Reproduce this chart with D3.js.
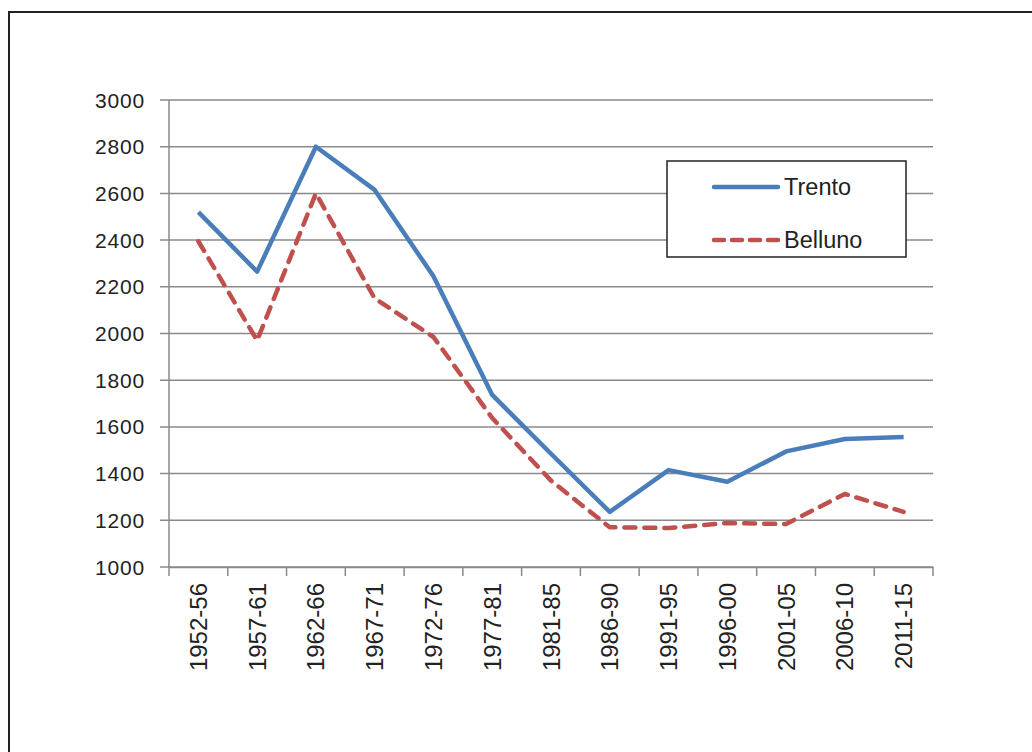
<!DOCTYPE html>
<html>
<head>
<meta charset="utf-8">
<script src="https://cdn.jsdelivr.net/npm/d3@7"></script>
<style>
  body { margin: 0; background: #fff; }
  svg { display: block; font-family: "Liberation Sans", Arial, sans-serif; }
</style>
</head>
<body>
<svg id="chart" width="1032" height="752"></svg>
<script>
const periods = ['1952-56', '1957-61', '1962-66', '1967-71', '1972-76', '1977-81', '1981-85',
  '1986-90', '1991-95', '1996-00', '2001-05', '2006-10', '2011-15']
const trento = [2520, 2265, 2800, 2615, 2245, 1737, 1485, 1236, 1415, 1365, 1495, 1548, 1557]
const belluno = [2395, 1970, 2600, 2150, 1985, 1638, 1370, 1170, 1167, 1188, 1184, 1313, 1236]
const yTicks = [1000, 1200, 1400, 1600, 1800, 2000, 2200, 2400, 2600, 2800, 3000]
const seriesNames = ['Trento', 'Belluno']

const svg = d3.select('#chart')

// outer frame (only top and left edges show in the picture)
svg.append('rect')
    .attr('x', 9)
    .attr('y', 12)
    .attr('width', 1200)
    .attr('height', 900)
    .attr('fill', 'none')
    .attr('stroke', '#222')
    .attr('stroke-width', 2)

const plot = { left: 169, right: 933, top: 100, bottom: 567 }

const x = d3.scaleBand()
    .domain(periods)
    .range([plot.left, plot.right])

const y = d3.scaleLinear()
    .domain([1000, 3000])
    .range([plot.bottom, plot.top])

// grid
svg.append('g')
  .selectAll('line')
  .data(yTicks)
  .join('line')
    .attr('x1', plot.left - 9)
    .attr('x2', plot.right)
    .attr('y1', d => y(d))
    .attr('y2', d => y(d))
    .attr('stroke', '#8a8a8a')
    .attr('stroke-width', 1.5)

// y labels
svg.append('g')
  .selectAll('text')
  .data(yTicks)
  .join('text')
    .attr('x', 145)
    .attr('y', d => y(d))
    .attr('text-anchor', 'end')
    .attr('dominant-baseline', 'central')
    .attr('font-size', 21)
    .attr('letter-spacing', 0.8)
    .attr('fill', '#222')
    .text(d => d)

// axes lines
svg.append('line')
    .attr('x1', plot.left).attr('x2', plot.left)
    .attr('y1', plot.top).attr('y2', plot.bottom)
    .attr('stroke', '#8a8a8a').attr('stroke-width', 1.5)

const xAxis = d3.axisBottom(x).tickSize(0).tickFormat('')
svg.append('g')
    .attr('transform', `translate(0,${plot.bottom})`)
    .call(xAxis)
    .call(g => g.select('.domain').attr('stroke', '#8a8a8a').attr('stroke-width', 1.5))

// x tick marks at band edges
const edges = periods.map(p => x(p)).concat([plot.right])
svg.append('g')
  .selectAll('line')
  .data(edges)
  .join('line')
    .attr('x1', d => d).attr('x2', d => d)
    .attr('y1', plot.bottom).attr('y2', plot.bottom + 9)
    .attr('stroke', '#8a8a8a').attr('stroke-width', 1.5)

// x labels (rotated)
svg.append('g')
  .selectAll('text')
  .data(periods)
  .join('text')
    .attr('transform', d => `translate(${x(d) + x.bandwidth() / 2},583) rotate(-90)`)
    .attr('text-anchor', 'end')
    .attr('dominant-baseline', 'central')
    .attr('font-size', 24)
    .attr('fill', '#222')
    .text(d => d)

// lines
const line = d3.line()
    .x((d, i) => x(periods[i]) + x.bandwidth() / 2)
    .y(d => y(d))

svg.append('path')
    .datum(belluno)
    .attr('d', line)
    .attr('fill', 'none')
    .attr('stroke', '#c0504d')
    .attr('stroke-width', 4.5)
    .attr('stroke-dasharray', '11,9')
    .attr('stroke-linecap', 'round')
    .attr('stroke-linejoin', 'round')

svg.append('path')
    .datum(trento)
    .attr('d', line)
    .attr('fill', 'none')
    .attr('stroke', '#4a7ebb')
    .attr('stroke-width', 4.5)
    .attr('stroke-linejoin', 'round')

// legend
const legend = svg.append('g')

legend.append('rect')
    .attr('x', 667)
    .attr('y', 161)
    .attr('width', 239)
    .attr('height', 96)
    .attr('fill', '#fff')
    .attr('stroke', '#222')
    .attr('stroke-width', 1.5)

const legendRows = legend.selectAll('g')
  .data(seriesNames)
  .join('g')
    .attr('transform', (d, i) => `translate(0,${187 + i * 53})`)

legendRows.append('line')
    .attr('x1', 714)
    .attr('x2', 778)
    .attr('stroke', (d, i) => i === 0 ? '#4a7ebb' : '#c0504d')
    .attr('stroke-width', 4.5)
    .attr('stroke-linecap', 'round')
    .attr('stroke-dasharray', (d, i) => i === 0 ? null : '10,8')

legendRows.append('text')
    .attr('x', 784)
    .attr('dominant-baseline', 'central')
    .attr('font-size', 23.5)
    .attr('fill', '#222')
    .text(d => d)
</script>
</body>
</html>
